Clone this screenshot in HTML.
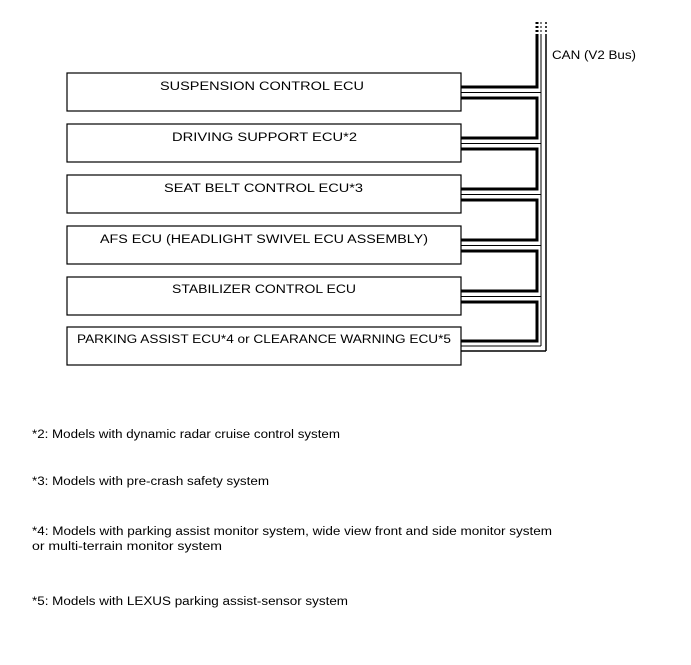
<!DOCTYPE html>
<html><head><meta charset="utf-8"><style>
body{margin:0;background:#fff;width:691px;height:660px;overflow:hidden}
svg text{font-family:"Liberation Sans",Arial,sans-serif;font-size:11.5px;fill:#000}
</style></head><body>
<svg width="691" height="660" xmlns="http://www.w3.org/2000/svg">
<g fill="none" stroke="#000">
<line x1="537" y1="22" x2="537" y2="36" stroke-width="3" stroke-dasharray="2,2"/>
<line x1="541" y1="22" x2="541" y2="36" stroke-width="1" stroke-dasharray="2,2"/>
<line x1="546" y1="22" x2="546" y2="36" stroke-width="1.5" stroke-dasharray="2,2"/>
<line x1="546" y1="36" x2="546" y2="351" stroke-width="1.5"/>
<line x1="541" y1="36" x2="541" y2="346" stroke-width="1"/>
<path d="M537 36 V87 H461 M461 98 H537 V138 H461 M461 149 H537 V189 H461 M461 200 H537 V240 H461 M461 251 H537 V291 H461 M461 302 H537 V341 H461" stroke-width="3"/>
<path d="M461 92.5 H541 M461 143.5 H541 M461 194.5 H541 M461 245.5 H541 M461 296.5 H541 M461 346 H541" stroke-width="1"/>
<path d="M461 351 H546" stroke-width="1.5"/>
</g>
<g fill="#fff" stroke="#000" stroke-width="1.2">
<rect x="67" y="73" width="394" height="38"/>
<rect x="67" y="124" width="394" height="38"/>
<rect x="67" y="175" width="394" height="38"/>
<rect x="67" y="226" width="394" height="38"/>
<rect x="67" y="277" width="394" height="38"/>
<rect x="67" y="327" width="394" height="38"/>
</g>
<g>
<text x="160" y="90" textLength="204" lengthAdjust="spacingAndGlyphs">SUSPENSION CONTROL ECU</text>
<text x="172" y="141" textLength="185" lengthAdjust="spacingAndGlyphs">DRIVING SUPPORT ECU*2</text>
<text x="164" y="192" textLength="199" lengthAdjust="spacingAndGlyphs">SEAT BELT CONTROL ECU*3</text>
<text x="100" y="243" textLength="328" lengthAdjust="spacingAndGlyphs">AFS ECU (HEADLIGHT SWIVEL ECU ASSEMBLY)</text>
<text x="172" y="293" textLength="184" lengthAdjust="spacingAndGlyphs">STABILIZER CONTROL ECU</text>
<text x="77" y="343" textLength="374" lengthAdjust="spacingAndGlyphs">PARKING ASSIST ECU*4 or CLEARANCE WARNING ECU*5</text>
<text x="552" y="59" textLength="84" lengthAdjust="spacingAndGlyphs">CAN (V2 Bus)</text>
<text x="32" y="438" textLength="308" lengthAdjust="spacingAndGlyphs">*2: Models with dynamic radar cruise control system</text>
<text x="32" y="485" textLength="237" lengthAdjust="spacingAndGlyphs">*3: Models with pre-crash safety system</text>
<text x="32" y="535" textLength="520" lengthAdjust="spacingAndGlyphs">*4: Models with parking assist monitor system, wide view front and side monitor system</text>
<text x="32" y="550" textLength="190" lengthAdjust="spacingAndGlyphs">or multi-terrain monitor system</text>
<text x="32" y="605" textLength="316" lengthAdjust="spacingAndGlyphs">*5: Models with LEXUS parking assist-sensor system</text>
</g>
</svg>
</body></html>
